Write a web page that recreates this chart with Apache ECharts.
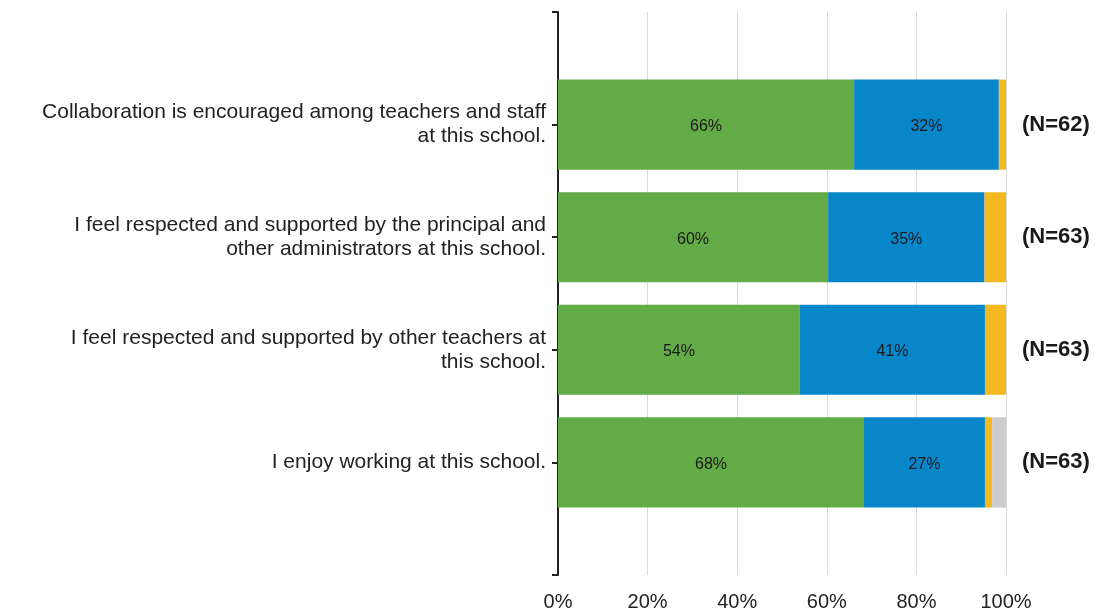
<!DOCTYPE html>
<html>
<head>
<meta charset="utf-8">
<script src="https://cdn.jsdelivr.net/npm/echarts@6/dist/echarts.min.js"></script>
<style>html,body{margin:0;padding:0;background:#fff}#c{width:1105px;height:616px}</style>
</head>
<body>
<div id="c"></div>
<script>
const categories = [
  'Collaboration is encouraged among teachers and staff\nat this school.',
  'I feel respected and supported by the principal and\nother administrators at this school.',
  'I feel respected and supported by other teachers at\nthis school.',
  'I enjoy working at this school.'
];
const nLabels = ['(N=62)', '(N=63)', '(N=63)', '(N=63)'];
const greenValues = [66.1, 60.3, 54.0, 68.3];
const blueValues = [32.3, 34.9, 41.3, 27.0];
const yellowValues = [1.6, 4.8, 4.8, 1.6];
const grayValues = [0, 0, 0, 3.2];
const xTicks = [0, 20, 40, 60, 80, 100];

const pad = arr => [null, ...arr, null];
const padCat = arr => ['', ...arr, ''];

const chart = echarts.init(document.getElementById('c'));
const labelFont = 'Liberation Sans';
function seg(name, values, color, showLabel) {
  return {
    name, type: 'bar', stack: 'total', barWidth: '80%',
    data: pad(values),
    itemStyle: { color },
    label: {
      show: showLabel, position: 'inside', offset: [0, 2],
      formatter: p => p.value == null ? '' : Math.round(p.value) + '%',
      color: '#1a1a1a', fontSize: 16, fontFamily: labelFont
    },
    emphasis: { disabled: true }
  };
}
chart.setOption({
  animation: false,
  grid: { left: 558, right: 99, top: 12, bottom: 41, containLabel: false },
  xAxis: {
    type: 'value', min: 0, max: 100, interval: 20,
    axisLine: { show: false }, axisTick: { show: false },
    splitLine: { lineStyle: { color: '#d9d9d9', width: 1 } },
    axisLabel: { formatter: v => xTicks.includes(v) ? v + '%' : '', fontSize: 20, fontFamily: labelFont, color: '#222', margin: 17 }
  },
  yAxis: [{
    type: 'category', inverse: true, boundaryGap: false,
    data: padCat(categories),
    axisLine: { show: true, lineStyle: { color: '#222', width: 2 } },
    axisTick: { show: true, length: 6, lineStyle: { color: '#222', width: 2 } },
    axisLabel: { fontSize: 21, fontFamily: labelFont, color: '#222', margin: 12, lineHeight: 24, align: 'right' },
    splitLine: { show: false }
  }, {
    type: 'category', inverse: true, boundaryGap: false, position: 'right',
    data: padCat(nLabels),
    axisLine: { show: false }, axisTick: { show: false },
    axisLabel: { fontSize: 22, fontWeight: 'bold', fontFamily: labelFont, color: '#1a1a1a', margin: 16 },
    splitLine: { show: false }
  }],
  series: [
    seg('Green', greenValues, '#63ab47', true),
    seg('Blue', blueValues, '#0786c9', true),
    seg('Yellow', yellowValues, '#f4b921', false),
    seg('Gray', grayValues, '#cccccc', false)
  ]
});
</script>
</body>
</html>
